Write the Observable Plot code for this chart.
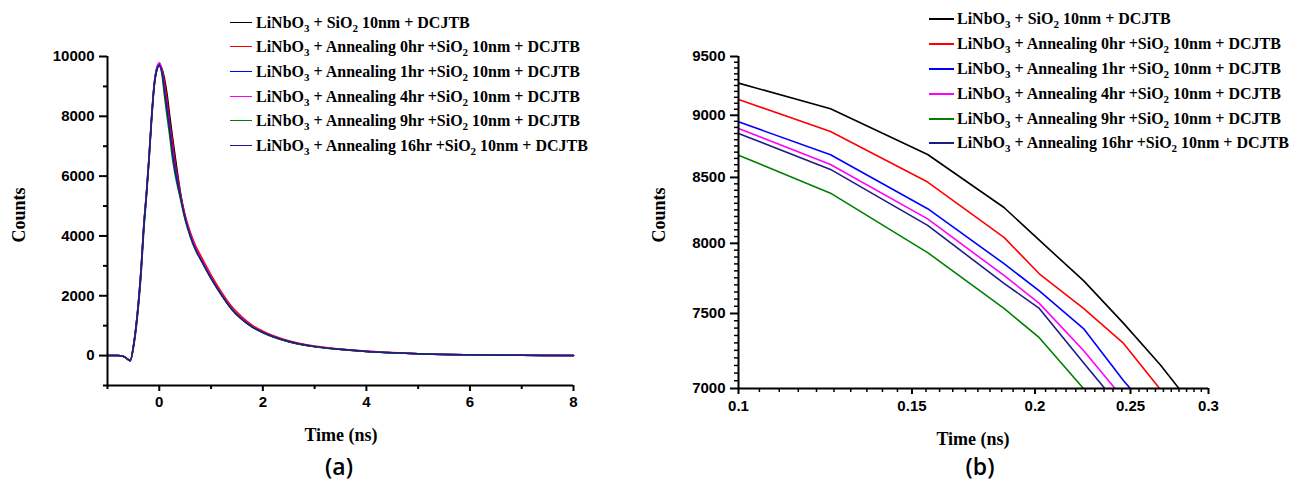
<!DOCTYPE html>
<html>
<head>
<meta charset="utf-8">
<script src="https://cdn.jsdelivr.net/npm/d3@7"></script>
<script src="https://cdn.jsdelivr.net/npm/@observablehq/plot@0.6"></script>
<style>
  html, body { margin: 0; padding: 0; background: #fff; }
  #root { position: relative; width: 1293px; height: 481px; overflow: hidden; background: #fff; }
  .panel { position: absolute; top: 0; }
  .lbl { position: absolute; font-family: "Liberation Serif", "Times New Roman", serif; font-weight: bold; color: #000; white-space: nowrap; line-height: 1; }
  .tag { position: absolute; font-family: "Open Sans", "Liberation Sans", sans-serif; font-weight: 600; color: #000; white-space: nowrap; line-height: 1; }
  .leg { position: absolute; height: 20px; line-height: 20px; font-family: "Liberation Serif", "Times New Roman", serif; font-weight: bold; font-size: 16px; color: #000; white-space: nowrap; }
  .leg .sw { position: absolute; height: 0; }
  .leg .tx { position: absolute; top: 0; }
  .leg sub { font-size: 11px; vertical-align: -4px; line-height: 0; }
</style>
</head>
<body>
<div id="root"></div>
<script>
// ---------- data ----------
const seriesNames = [
  "LiNbO3 + SiO2 10nm + DCJTB",
  "LiNbO3 + Annealing 0hr +SiO2 10nm + DCJTB",
  "LiNbO3 + Annealing 1hr +SiO2 10nm + DCJTB",
  "LiNbO3 + Annealing 4hr +SiO2 10nm + DCJTB",
  "LiNbO3 + Annealing 9hr +SiO2 10nm + DCJTB",
  "LiNbO3 + Annealing 16hr +SiO2 10nm + DCJTB"
];
const seriesColors = ["#000000", "#ff0000", "#0000ff", "#ff00ff", "#008000", "#1c1c84"];

// Panel (a): full decay, time in ns
const timeA = [-1, -0.8, -0.7, -0.62, -0.56, -0.5, -0.45, -0.4, -0.35, -0.3, -0.25, -0.2, -0.15, -0.1, -0.05,
  0, 0.05, 0.1, 0.15, 0.2, 0.25, 0.3, 0.4, 0.5, 0.6, 0.7, 0.8, 1.0, 1.2, 1.4, 1.6, 1.8, 2.0, 2.5, 3.0, 3.5,
  4.0, 4.5, 5.0, 6.0, 7.0, 8.0];
const countsA_ref   = [0,0,-20,-100,-160, 250,850,1700,2750,4150, 5250,6450,7800,8950,9520, 9700,9600,9270,8750,8050, 7380,6750,5550,4620,4030, 3580,3230,2580,2030,1550, 1210,950,770,465,300, 205,140,95,60,25, 10,5];
const countsA_0hr   = [0,0,-20,-110,-170, 320,980,1850,2950,4350, 5400,6600,7950,9050,9600, 9760,9580,9130,8540,7800, 7230,6550,5500,4700,4120, 3680,3340,2700,2130,1640, 1290,1010,820,500,320, 220,150,100,65,28, 12,5];
const countsA_1hr   = [0,0,-20,-110,-170, 310,960,1820,2920,4320, 5380,6580,7920,9020,9570, 9720,9500,8950,8330,7680, 7000,6400,5420,4600,4020, 3570,3240,2600,2050,1560, 1220,960,780,470,300, 210,140,95,60,25, 10,5];
const countsA_4hr   = [0,0,-20,-110,-170, 330,990,1860,2960,4360, 5420,6620,7970,9070,9620, 9790,9560,8890,8250,7590, 6900,6300,5400,4620,4050, 3600,3260,2620,2060,1570, 1230,965,785,472,302, 210,142,96,60,25, 10,5];
const countsA_9hr   = [0,0,-20,-110,-170, 300,940,1790,2880,4280, 5330,6530,7880,8980,9530, 9680,9420,8680,8000,7360, 6640,6100,5300,4530,3960, 3520,3200,2570,2020,1540, 1200,945,765,462,296, 205,138,94,59,25, 10,5];
const countsA_16hr  = [0,0,-20,-110,-170, 300,950,1800,2900,4300, 5350,6550,7900,9000,9550, 9710,9480,8850,8200,7550, 6830,6250,5380,4580,4000, 3550,3220,2590,2040,1550, 1210,955,775,468,300, 208,140,95,60,25, 10,5];

// Panel (b): zoom of early decay (log-log axes)
const timeB = [0.1, 0.124, 0.1556, 0.186, 0.202, 0.224, 0.246, 0.268, 0.29];
const countsB_ref  = [9270, 9054, 8681, 8268, 8023, 7730, 7432, 7155, 6878];
const countsB_0hr  = [9132, 8867, 8464, 8044, 7779, 7535, 7296, 6995, 6700];
const countsB_1hr  = [8946, 8679, 8259, 7852, 7658, 7397, 7050, 6780, 6530];
const countsB_4hr  = [8891, 8602, 8182, 7767, 7570, 7249, 6934, 6660, 6400];
const countsB_9hr  = [8676, 8378, 7932, 7535, 7335, 7000, 6700, 6420, 6150];
const countsB_16hr = [8850, 8563, 8133, 7711, 7535, 7168, 6855, 6580, 6330];

// tick labels
const xTicksA = [0, 2, 4, 6, 8];
const xMinorA = [-1, 1, 3, 5, 7];
const yTicksA = [0, 2000, 4000, 6000, 8000, 10000];
const yMinorA = [-1000, 1000, 3000, 5000, 7000, 9000];
const xTicksB = [0.1, 0.15, 0.2, 0.25, 0.3];
const yTicksB = [7000, 7500, 8000, 8500, 9000, 9500];

// ---------- build ----------
const seriesA = [countsA_ref, countsA_0hr, countsA_1hr, countsA_4hr, countsA_9hr, countsA_16hr];
const seriesB = [countsB_ref, countsB_0hr, countsB_1hr, countsB_4hr, countsB_9hr, countsB_16hr];
const dataA = seriesA.flatMap((vals, i) => vals.map((v, j) => ({t: timeA[j], v, s: seriesNames[i]})));
const dataB = seriesB.flatMap((vals, i) => vals.map((v, j) => ({t: timeB[j], v, s: seriesNames[i]})));

const xMinorB = d3.range(20, 61).map(i => i / 200).filter(v => !xTicksB.some(t => Math.abs(t - v) < 1e-9));
const yMinorB = d3.range(140, 191).map(i => i * 50).filter(v => v % 500 !== 0);

const root = document.getElementById("root");
const baseStyle = {fontFamily: "'Liberation Sans', Arial, sans-serif", fontSize: "15px", fontWeight: "bold", color: "#000", background: "transparent", overflow: "visible"};
const blank = () => "";
const tickText = {fontSize: 15, fontWeight: "bold", fontFamily: "'Liberation Sans', Arial, sans-serif", fill: "#000"};

const plotA = Plot.plot({
  width: 646, height: 481,
  marginLeft: 107, marginRight: 73, marginTop: 56, marginBottom: 96,
  style: baseStyle,
  x: {domain: [-1, 8]},
  y: {domain: [-1000, 10000]},
  color: {domain: seriesNames, range: seriesColors},
  marks: [
    Plot.axisX(xTicksA, {tickSize: 6, tickPadding: 5, strokeWidth: 2, label: null, fontSize: 15, fontWeight: "bold"}),
    Plot.axisX(xMinorA, {tickSize: 4, strokeWidth: 2, label: null, tickFormat: blank}),
    Plot.axisY(yTicksA, {tickSize: 8, tickPadding: 5, strokeWidth: 2, label: null, fontSize: 15, fontWeight: "bold", tickFormat: d => String(d)}),
    Plot.axisY(yMinorA, {tickSize: 4, strokeWidth: 2, label: null, tickFormat: blank}),
    Plot.line(dataA, {x: "t", y: "v", z: "s", stroke: "s", curve: "monotone-x", strokeWidth: 1.5}),
    Plot.ruleX([-1], {y1: -1000, y2: 10000, strokeWidth: 2}),
    Plot.ruleY([-1000], {x1: -1, x2: 8, strokeWidth: 2})
  ]
});
plotA.classList.add("panel");
plotA.style.left = "0px";
root.appendChild(plotA);

const plotB = Plot.plot({
  width: 647, height: 481,
  marginLeft: 92, marginRight: 85, marginTop: 56, marginBottom: 93,
  style: baseStyle,
  x: {type: "log", domain: [0.1, 0.3]},
  y: {type: "log", domain: [7000, 9500]},
  color: {domain: seriesNames, range: seriesColors},
  marks: [
    Plot.axisX(xTicksB, {tickSize: 6, tickPadding: 6, strokeWidth: 2, label: null, fontSize: 15, fontWeight: "bold", tickFormat: d => String(d)}),
    Plot.axisX(xMinorB, {tickSize: 4, strokeWidth: 1.5, label: null, tickFormat: blank}),
    Plot.axisY(yTicksB, {tickSize: 8, strokeWidth: 2, label: null, tickFormat: blank}),
    Plot.axisY(yMinorB, {tickSize: 4, strokeWidth: 1.5, label: null, tickFormat: blank}),
    Plot.text(yTicksB, {y: d => d, text: d => String(d), frameAnchor: "left", dx: -13, textAnchor: "end", ...tickText}),
    Plot.line(dataB, {x: "t", y: "v", z: "s", stroke: "s", strokeWidth: 1.6, clip: true}),
    Plot.ruleX([0.1], {y1: 7000, y2: 9500, strokeWidth: 2}),
    Plot.ruleY([7000], {x1: 0.1, x2: 0.3, strokeWidth: 2})
  ]
});
plotB.classList.add("panel");
plotB.style.left = "646px";
root.appendChild(plotB);

// ---------- text ----------
function addLabel(text, x, y, size, rotate, cls) {
  const d = document.createElement("div");
  d.className = cls || "lbl";
  d.textContent = text;
  d.style.left = x + "px";
  d.style.top = y + "px";
  if (size) d.style.fontSize = size + "px";
  d.style.transform = "translate(-50%, -50%)" + (rotate ? " rotate(-90deg)" : "");
  root.appendChild(d);
}
addLabel("Counts", 19, 215, 18, true);
addLabel("Time (ns)", 341, 435, 18, false);
addLabel("Counts", 659, 215, 18, true);
addLabel("Time (ns)", 973, 439, 18, false);
addLabel("(a)", 339, 466, 23, false, "tag");
addLabel("(b)", 980, 466, 23, false, "tag");

function addLegend(x0, lineLen, textX, rowsY, lineW) {
  seriesNames.forEach((name, i) => {
    const row = document.createElement("div");
    row.className = "leg";
    row.style.left = x0 + "px";
    row.style.top = (rowsY[i] - 10) + "px";
    const sw = document.createElement("span");
    sw.className = "sw";
    sw.style.left = "0px";
    sw.style.width = lineLen + "px";
    sw.style.borderTop = lineW + "px solid " + seriesColors[i];
    sw.style.top = (10 - lineW / 2) + "px";
    const tx = document.createElement("span");
    tx.className = "tx";
    tx.style.left = (textX - x0) + "px";
    tx.innerHTML = name.replace(/O(\d)/g, "O<sub>$1</sub>");
    row.appendChild(sw);
    row.appendChild(tx);
    root.appendChild(row);
  });
}
addLegend(230, 22, 256, [23, 47, 72, 97, 121, 146], 1.5);
addLegend(929, 25, 957, [19, 44, 69, 94, 119, 143], 2);
</script>
</body>
</html>
